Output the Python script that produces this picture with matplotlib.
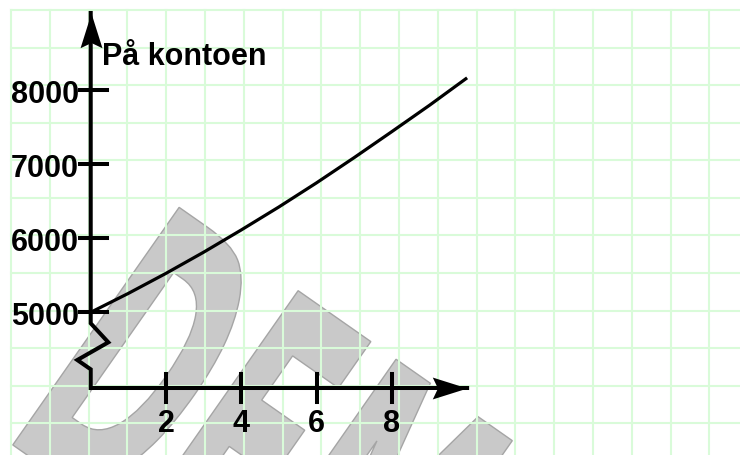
import numpy as np
import matplotlib
matplotlib.use("Agg")
import matplotlib.pyplot as plt
from matplotlib.path import Path
from matplotlib.patches import PathPatch
from matplotlib.textpath import TextPath
from matplotlib.font_manager import FontProperties
from matplotlib.transforms import Affine2D

# Data (years, balance on the account)
years = [0, 1, 2, 3, 4, 5, 6, 7, 8, 9, 10]
balance = [5000, 5255, 5525, 5810, 6110, 6420, 6745, 7085, 7435, 7790, 8160]
x_ticks = [2, 4, 6, 8]
y_ticks = [5000, 6000, 7000, 8000]
title = "På kontoen"

plt.rcParams['font.family'] = ['Liberation Sans', 'DejaVu Sans']

fig = plt.figure(figsize=(7.4, 4.55), dpi=100)

# background: squared paper + watermark, in pixel coords
bg = fig.add_axes([0, 0, 1, 1], zorder=0)
bg.set_xlim(0, 740)
bg.set_ylim(455, 0)
bg.axis('off')
grid_col = '#d9fbd9'
for k in range(19):
    gx = 11 + 38.8 * k
    bg.plot([gx, gx], [10, 455], color=grid_col, lw=1.5, zorder=2)
for k in range(12):
    gy = 10 + 37.57 * k
    bg.plot([11, 740], [gy, gy], color=grid_col, lw=1.5, zorder=2)

# watermark text, tilted
fp = FontProperties(family='DejaVu Sans', weight='bold')
tp = TextPath((0, 0), "DEMO", size=1, prop=fp)
ang = np.deg2rad(35)
R = np.array([np.cos(ang), np.sin(ang)])
U = np.array([np.sin(ang), -np.cos(ang)])
sx, sy = 175, 290 / 0.729
org = np.array([180, 208]) - 290 * U - 0.098 * sx * R
m = np.array([[sx * R[0], sy * U[0], org[0]],
              [sx * R[1], sy * U[1], org[1]],
              [0, 0, 1]])
wm = Affine2D(m).transform_path(tp)
bg.add_patch(PathPatch(wm, facecolor='#c9c9c9', edgecolor='#a5a5a5', lw=1, zorder=1))

# main axes, data coords
ax = fig.add_axes([0, 0, 1, 1], zorder=1)
ax.patch.set_alpha(0)
ax.axis('off')
ax.set_xlim(-2.41, 17.25)
ax.set_ylim(3077, 9209)

px = 1 / 37.65          # x units per pixel
py = 1000 / 74.2        # y units per pixel
y_base = 3980           # where the x axis sits (below the axis break)

# y axis with break + x axis
ax.plot([0, 0, 17.6 * px, -13.4 * px, 0, 0, 10],
        [9034, 5000 - 11 * py, 5000 - 30 * py, 5000 - 47.7 * py,
         5000 - 57 * py, y_base, y_base],
        color='black', lw=2.9, solid_joinstyle='miter', zorder=3)

arrow_r = Path([(0, 0), (-2, 0.63), (-1.7, 0), (-2, -0.63), (0, 0)],
               [Path.MOVETO, Path.LINETO, Path.LINETO, Path.LINETO, Path.CLOSEPOLY])
arrow_u = Path([(0, 0), (0.63, -2), (0, -1.7), (-0.63, -2), (0, 0)],
               [Path.MOVETO, Path.LINETO, Path.LINETO, Path.LINETO, Path.CLOSEPOLY])
ax.plot([10], [y_base], marker=arrow_r, markersize=50, color='black', mew=0, zorder=4)
ax.plot([0], [9034], marker=arrow_u, markersize=50, color='black', mew=0, zorder=4)

for t in x_ticks:
    ax.plot([t, t], [y_base - 14 * py, y_base + 14 * py], color='black', lw=2.9, zorder=3)
    ax.text(t, y_base - 44 * py, str(t), ha='center', va='baseline',
            fontsize=22, fontweight='bold', zorder=5)
for v in y_ticks:
    ax.plot([-10.5 * px, 16.5 * px], [v, v], color='black', lw=2.9, zorder=3)
    ax.text(-11.5 * px, v - 13 * py, str(v), ha='right', va='baseline',
            fontsize=22, fontweight='bold', zorder=5)

ax.text(11 * px, 5000 + 247 * py, title, ha='left', va='baseline',
        fontsize=22, fontweight='bold', zorder=5)

ax.plot(years, balance, color='black', lw=2.3, solid_capstyle='butt',
        solid_joinstyle='round', zorder=4)

fig.savefig('out.png', dpi=100)
